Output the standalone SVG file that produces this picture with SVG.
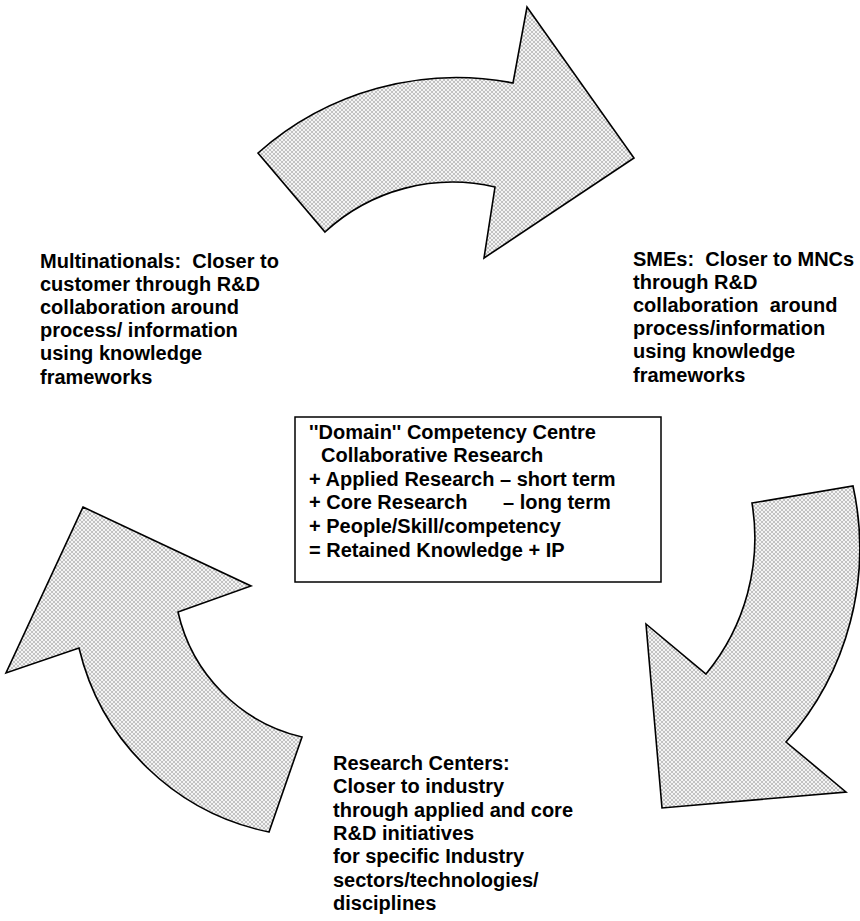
<svg xmlns="http://www.w3.org/2000/svg" width="860" height="921" viewBox="0 0 860 921">
  <defs>
    <pattern id="hatch" width="4" height="4" patternUnits="userSpaceOnUse">
      <rect width="4" height="4" fill="#f4f4f4"/>
      <rect x="0" y="0" width="1" height="1" fill="#c2c2c2"/>
      <rect x="1" y="1" width="1" height="1" fill="#c2c2c2"/>
      <rect x="2" y="2" width="1" height="1" fill="#c2c2c2"/>
      <rect x="3" y="3" width="1" height="1" fill="#c2c2c2"/>
      <rect x="3" y="0" width="1" height="1" fill="#c2c2c2"/>
      <rect x="2" y="1" width="1" height="1" fill="#c2c2c2"/>
      <rect x="1" y="2" width="1" height="1" fill="#c2c2c2"/>
      <rect x="0" y="3" width="1" height="1" fill="#c2c2c2"/>
    </pattern>
  </defs>
  <style>
    .arrow { fill: url(#hatch); stroke: #000; stroke-width: 1.6; stroke-linejoin: miter; }
    .lbl { font-family: "Liberation Sans", Arial, sans-serif; font-weight: bold; font-size: 20px; fill: #000; white-space: pre; }
    .box { fill: #fff; stroke: #000; stroke-width: 1.5; }
  </style>
  <rect width="860" height="921" fill="#fff"/>

  <g id="connectors">
    <path id="arrow-top" class="arrow" d="M258,153 A299,299 0 0 1 513,83 L527,7 L634,158 L484,258 L495,187 A188,188 0 0 0 325,232 Z"/>
    <path id="arrow-right" class="arrow" d="M752,503 L853,486 A291,291 0 0 1 786,742 L846,792 L662,808 L646,624 L706,674 A214,214 0 0 0 752,503 Z"/>
    <path id="arrow-left" class="arrow" d="M83,507 L251,586 L178,612 A166,166 0 0 0 302,737 L269,832 A246,246 0 0 1 79,648 L6,673 Z"/>
  </g>

  <g id="node-multinationals">
    <text class="lbl" x="40" y="268" xml:space="preserve">Multinationals:  Closer to</text>
    <text class="lbl" x="40" y="291">customer through R&amp;D</text>
    <text class="lbl" x="40" y="314">collaboration around</text>
    <text class="lbl" x="40" y="337">process/ information</text>
    <text class="lbl" x="40" y="360">using knowledge</text>
    <text class="lbl" x="40" y="384">frameworks</text>
  </g>

  <g id="node-smes">
    <text class="lbl" x="633" y="266" xml:space="preserve">SMEs:  Closer to MNCs</text>
    <text class="lbl" x="633" y="289">through R&amp;D</text>
    <text class="lbl" x="633" y="312" xml:space="preserve">collaboration  around</text>
    <text class="lbl" x="633" y="335">process/information</text>
    <text class="lbl" x="633" y="358">using knowledge</text>
    <text class="lbl" x="633" y="382">frameworks</text>
  </g>

  <g id="node-centre">
    <rect class="box" x="295" y="417" width="366" height="165"/>
    <text class="lbl" x="309" y="439">''Domain'' Competency Centre</text>
    <text class="lbl" x="321" y="462">Collaborative Research</text>
    <text class="lbl" x="309" y="486">+ Applied Research – short term</text>
    <text class="lbl" x="309" y="509">+ Core Research<tspan x="503">– long term</tspan></text>
    <text class="lbl" x="309" y="533">+ People/Skill/competency</text>
    <text class="lbl" x="309" y="557">= Retained Knowledge + IP</text>
  </g>

  <g id="node-research">
    <text class="lbl" x="333" y="770">Research Centers:</text>
    <text class="lbl" x="333" y="793">Closer to industry</text>
    <text class="lbl" x="333" y="817">through applied and core</text>
    <text class="lbl" x="333" y="840">R&amp;D initiatives</text>
    <text class="lbl" x="333" y="863">for specific Industry</text>
    <text class="lbl" x="333" y="887">sectors/technologies/</text>
    <text class="lbl" x="333" y="910">disciplines</text>
  </g>
</svg>
